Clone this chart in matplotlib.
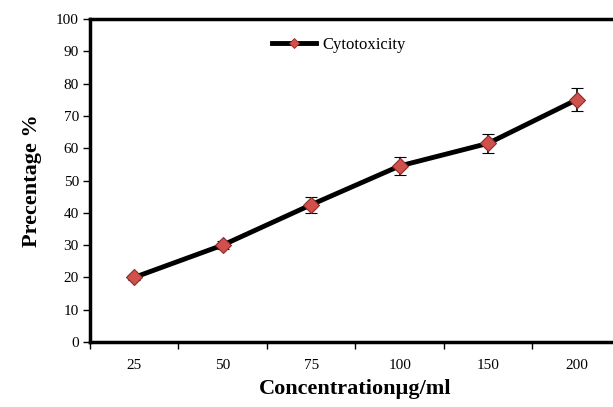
import matplotlib
matplotlib.use("Agg")
import matplotlib.pyplot as plt
from matplotlib.lines import Line2D
import numpy as np

categories = ["25", "50", "75", "100", "150", "200"]
cytotoxicity = [20, 30, 42.5, 54.5, 61.5, 75]
errors = [0.8, 1.2, 2.5, 2.8, 3.0, 3.6]
yticks = [0, 10, 20, 30, 40, 50, 60, 70, 80, 90, 100]

fig = plt.figure(figsize=(6.13, 4.07), dpi=100)
ax = fig.add_axes([0.1468, 0.1597, 0.866, 0.7936])

x = np.arange(len(categories))
ax.errorbar(x, cytotoxicity, yerr=errors, color="black", lw=3.5,
            marker="D", markersize=8, markerfacecolor="#d0504b",
            markeredgecolor="#8b2b28", markeredgewidth=0.8,
            ecolor="black", elinewidth=1.2, capsize=4, capthick=1.2,
            zorder=3)

ax.set_xlim(-0.5, len(categories) - 0.5)
ax.set_ylim(0, 100)
ax.set_yticks(yticks)
ax.set_yticklabels([str(v) for v in yticks], fontsize=11, family="Liberation Serif")
ax.set_xticks(x)
ax.set_xticklabels(categories, fontsize=11, family="Liberation Serif")
ax.tick_params(axis="x", which="major", length=0, pad=12)
ax.set_xticks(np.arange(len(categories) + 1) - 0.5, minor=True)
ax.tick_params(axis="x", which="minor", length=5, width=1, direction="out")
ax.tick_params(axis="y", length=5, width=1, direction="out", pad=3)

for s in ["left", "bottom", "top"]:
    ax.spines[s].set_linewidth(2.5)
ax.spines["right"].set_visible(False)

ax.set_ylabel("Precentage %", fontsize=16, fontweight="bold", family="Liberation Serif", labelpad=10)
ax.set_xlabel("Concentrationµg/ml", fontsize=16, fontweight="bold", family="Liberation Serif", labelpad=5)

handle = Line2D([], [], color="black", lw=3.5, marker="D", markersize=5,
                markerfacecolor="#d0504b", markeredgecolor="#8b2b28", markeredgewidth=0.6)
leg = ax.legend([handle], ["Cytotoxicity"], loc="upper left", bbox_to_anchor=(0.315, 0.99),
                frameon=False, prop={"family": "Liberation Serif", "size": 12},
                handlelength=2.6, handletextpad=0.4)

fig.savefig("out.png", dpi=100)
